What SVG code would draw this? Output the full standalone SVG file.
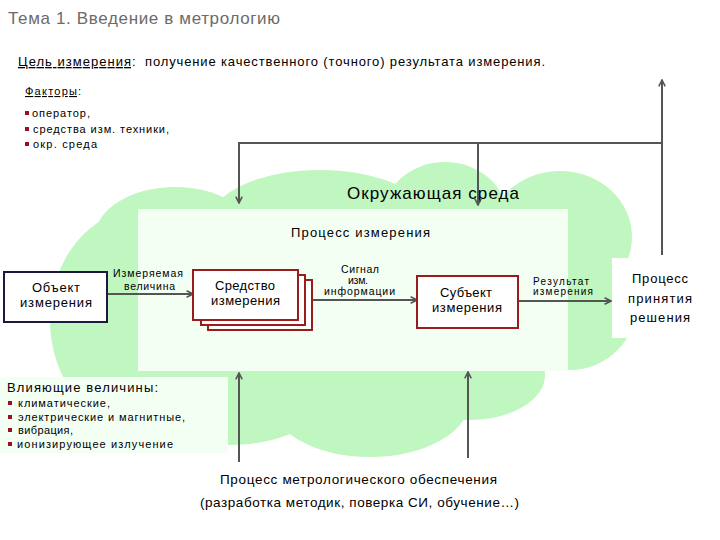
<svg xmlns="http://www.w3.org/2000/svg" width="720" height="540" viewBox="0 0 720 540">
<defs>
<marker id="ah" viewBox="0 0 10 10" refX="9" refY="5" markerWidth="4" markerHeight="4" orient="auto" markerUnits="strokeWidth">
<path d="M1,1 L9,5 L1,9" fill="none" stroke="#555" stroke-width="2"/>
</marker>
<style>
text{font-family:"Liberation Sans","Noto Sans",sans-serif;fill:#000}
.cl{fill:#c0f6c0}
.conn{stroke:#555;stroke-width:2;fill:none}
.arr{marker-end:url(#ah)}
.box{fill:#fff;stroke-width:2}
.red{stroke:#9b1c1c}
.lbl{font-size:10.5px}
.nt{font-size:13px}
.bl{fill:#9b1020}
</style>
</defs>
<rect width="720" height="540" fill="#fff"/>
<text x="8" y="24" style="font-size:17px;fill:#6b6b6b" textLength="272" lengthAdjust="spacing">Тема 1. Введение в метрологию</text>
<text x="18" y="66" style="font-size:13px" text-decoration="underline" textLength="113" lengthAdjust="spacing">Цель измерения</text>
<text x="132" y="66" style="font-size:13px">:</text>
<text x="145" y="66" style="font-size:13px" textLength="400" lengthAdjust="spacing">получение качественного (точного) результата измерения.</text>
<text x="25" y="95" style="font-size:11px" text-decoration="underline" textLength="52" lengthAdjust="spacing">Факторы</text>
<text x="78" y="95" style="font-size:11px">:</text>
<g id="factors" style="font-size:11px">
<rect class="bl" x="25" y="111" width="4" height="4"/><text x="32" y="117" textLength="58" lengthAdjust="spacing">оператор,</text>
<rect class="bl" x="25" y="127" width="4" height="4"/><text x="33" y="133" textLength="136" lengthAdjust="spacing">средства изм. техники,</text>
<rect class="bl" x="25" y="142" width="4" height="4"/><text x="33" y="148" textLength="64" lengthAdjust="spacing">окр. среда</text>
</g>
<g id="cloud">
<ellipse class="cl" cx="140" cy="320" rx="90" ry="110"/>
<ellipse class="cl" cx="175" cy="237" rx="80" ry="50"/>
<ellipse class="cl" cx="320" cy="222" rx="110" ry="52"/>
<ellipse class="cl" cx="445" cy="217" rx="62" ry="55"/>
<ellipse class="cl" cx="560" cy="237" rx="72" ry="66"/>
<ellipse class="cl" cx="570" cy="300" rx="68" ry="70"/>
<ellipse class="cl" cx="470" cy="375" rx="75" ry="45"/>
<ellipse class="cl" cx="370" cy="400" rx="100" ry="57"/>
<ellipse class="cl" cx="230" cy="390" rx="100" ry="55"/>
<rect class="cl" x="120" y="215" width="420" height="155"/>
</g>
<rect id="process" x="138" y="209" width="430" height="162" fill="#f4fff4"/>
<text x="347" y="199" style="font-size:17px" textLength="172" lengthAdjust="spacing">Окружающая  среда</text>
<text x="291" y="237" style="font-size:13px" textLength="139" lengthAdjust="spacing">Процесс  измерения</text>
<g id="connectors">
<path class="conn" d="M239,203 V143 H662 V255"/>
<path class="conn arr" d="M239,143 V203"/>
<path class="conn arr" d="M478,143 V205"/>
<path class="conn arr" d="M662,255 V80"/>
<path class="conn arr" d="M239,462 V373"/>
<path class="conn arr" d="M468,458 V372"/>
<path class="conn arr" d="M107,294 H193"/>
<path class="conn arr" d="M313,300 H417"/>
<path class="conn arr" d="M518,301 H611"/>
<text class="lbl" x="113" y="277" textLength="70" lengthAdjust="spacing">Измеряемая</text>
<text class="lbl" x="124" y="290" textLength="51" lengthAdjust="spacing">величина</text>
<text class="lbl" x="341" y="273" textLength="38" lengthAdjust="spacing">Сигнал</text>
<text class="lbl" x="348" y="284" textLength="20" lengthAdjust="spacing">изм.</text>
<text class="lbl" x="324" y="295" textLength="71" lengthAdjust="spacing">информации</text>
<text class="lbl" x="533" y="285" style="font-size:10px" textLength="56" lengthAdjust="spacing">Результат</text>
<text class="lbl" x="533" y="295" style="font-size:10px" textLength="60" lengthAdjust="spacing">измерения</text>
</g>
<g id="object">
<rect class="box" x="4" y="272" width="103" height="50" stroke="#1a1a40"/>
<text class="nt" x="32" y="292" textLength="48" lengthAdjust="spacing">Объект</text>
<text class="nt" x="20" y="307" textLength="72" lengthAdjust="spacing">измерения</text>
</g>
<g id="instrument">
<rect class="box red" x="208" y="280" width="104" height="50"/>
<rect class="box red" x="201" y="275" width="104" height="50"/>
<rect class="box red" x="193" y="270" width="105" height="50"/>
<text class="nt" x="215" y="290" textLength="60" lengthAdjust="spacing">Средство</text>
<text class="nt" x="211" y="305" textLength="69" lengthAdjust="spacing">измерения</text>
</g>
<g id="subject">
<rect class="box red" x="417" y="276" width="101" height="52"/>
<text class="nt" x="440" y="297" textLength="52" lengthAdjust="spacing">Субъект</text>
<text class="nt" x="432" y="312" textLength="70" lengthAdjust="spacing">измерения</text>
</g>
<g id="decision">
<rect x="612" y="258" width="90" height="80" fill="#fff"/>
<text class="nt" x="632" y="283" textLength="56" lengthAdjust="spacing">Процесс</text>
<text class="nt" x="628" y="303" textLength="64" lengthAdjust="spacing">принятия</text>
<text class="nt" x="630" y="322" textLength="60" lengthAdjust="spacing">решения</text>
</g>
<g id="influences">
<rect x="0" y="377" width="228" height="76" fill="#f4fff4"/>
<text x="7" y="392" style="font-size:13px" textLength="151" lengthAdjust="spacing">Влияющие  величины:</text>
<g style="font-size:11px">
<rect class="bl" x="8" y="401" width="4" height="4"/><text x="18" y="407" textLength="92" lengthAdjust="spacing">климатические,</text>
<rect class="bl" x="8" y="415" width="4" height="4"/><text x="18" y="421" textLength="167" lengthAdjust="spacing">электрические и магнитные,</text>
<rect class="bl" x="8" y="428" width="4" height="4"/><text x="18" y="434" textLength="55" lengthAdjust="spacing">вибрация,</text>
<rect class="bl" x="8" y="442" width="4" height="4"/><text x="17" y="448" textLength="156" lengthAdjust="spacing">ионизирующее излучение</text>
</g>
</g>
<g id="metrology">
<text x="220" y="484" style="font-size:13.5px" textLength="277" lengthAdjust="spacing">Процесс  метрологического обеспечения</text>
<text x="200" y="507" style="font-size:13.5px" textLength="319" lengthAdjust="spacing">(разработка методик, поверка СИ, обучение…)</text>
</g>
</svg>
